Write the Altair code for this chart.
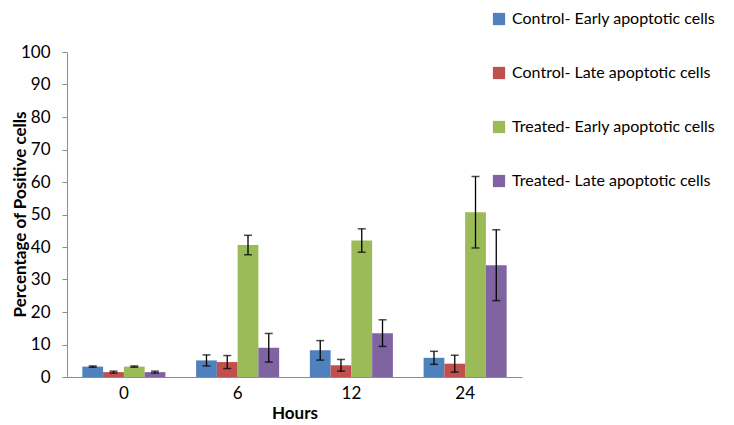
import altair as alt
import pandas as pd

hours = ["0", "6", "12", "24"]
series = [
    "Control- Early apoptotic cells",
    "Control- Late apoptotic cells",
    "Treated- Early apoptotic cells",
    "Treated- Late apoptotic cells",
]
colors = ["#4F81BD", "#C0504D", "#9BBB59", "#8064A2"]

# values per series, in order of hours
ctrl_early = [3.2, 5.1, 8.2, 5.9]
ctrl_late = [1.5, 4.6, 3.6, 4.1]
trt_early = [3.2, 40.6, 42.0, 50.7]
trt_late = [1.5, 9.0, 13.5, 34.4]

ctrl_early_err = [0.2, 1.7, 3.0, 2.0]
ctrl_late_err = [0.3, 2.0, 1.8, 2.6]
trt_early_err = [0.2, 3.0, 3.6, 11.0]
trt_late_err = [0.3, 4.4, 4.1, 10.9]

y_ticks = list(range(0, 101, 10))

vals = [ctrl_early, ctrl_late, trt_early, trt_late]
errs = [ctrl_early_err, ctrl_late_err, trt_early_err, trt_late_err]

rows = []
for s, v, e in zip(series, vals, errs):
    for h, vv, ee in zip(hours, v, e):
        rows.append({"Hours": h, "Series": s, "Value": vv, "Err": ee})
df = pd.DataFrame(rows)

FONT = "Lato"

x = alt.X("Hours:N", sort=hours,
          scale=alt.Scale(paddingInner=0.27, paddingOuter=0.135),
          axis=alt.Axis(title="Hours", labelAngle=0, ticks=False, tickSize=0,
                        labelPadding=8, titlePadding=4, domainColor="#8c8c8c",
                        labelFontSize=17, titleFontSize=17, titleFontWeight="bold",
                        labelColor="#000", titleColor="#000", labelFont=FONT, titleFont=FONT))
xo = alt.XOffset("Series:N", sort=series, scale=alt.Scale(paddingInner=0, paddingOuter=0))

y_axis = alt.Axis(title="Percentage of Positive cells", values=y_ticks,
                  labelOverlap=False, grid=False, tickSize=5, tickColor="#8c8c8c",
                  domainColor="#8c8c8c",
                  labelPadding=12, labelFontSize=17, titleFontSize=17,
                  titleFontWeight="bold", labelColor="#000", titleColor="#000",
                  labelFont=FONT, titleFont=FONT,
                  titleX=-47, titleY=162, titleAlign="center", titleBaseline="middle",
                  titleAngle=270)
y_scale = alt.Scale(domain=[0, 100])

base = alt.Chart(df)

bars = base.mark_bar().encode(
    x=x,
    xOffset=xo,
    y=alt.Y("Value:Q", scale=y_scale, axis=y_axis),
    color=alt.Color("Series:N", sort=series,
                    scale=alt.Scale(domain=series, range=colors),
                    legend=alt.Legend(title=None, orient="none", legendX=424, legendY=-41,
                                      symbolType="square", symbolSize=150, symbolStrokeWidth=0,
                                      labelFontSize=16, labelFont=FONT, labelColor="#000",
                                      labelLimit=0, rowPadding=38, labelOffset=5)),
)

err_rule = base.mark_rule(color="black", strokeWidth=1.3).encode(
    x=alt.X("Hours:N", sort=hours),
    xOffset=alt.XOffset("Series:N", sort=series),
    y=alt.Y("lo:Q", scale=y_scale, axis=y_axis),
    y2="hi:Q",
).transform_calculate(lo="datum.Value - datum.Err", hi="datum.Value + datum.Err")

cap_lo = base.mark_tick(color="black", thickness=1.5, size=8).encode(
    x=alt.X("Hours:N", sort=hours),
    xOffset=alt.XOffset("Series:N", sort=series),
    y=alt.Y("lo:Q", scale=y_scale, axis=y_axis),
).transform_calculate(lo="datum.Value - datum.Err")

cap_hi = base.mark_tick(color="black", thickness=1.5, size=8).encode(
    x=alt.X("Hours:N", sort=hours),
    xOffset=alt.XOffset("Series:N", sort=series),
    y=alt.Y("hi:Q", scale=y_scale, axis=y_axis),
).transform_calculate(hi="datum.Value + datum.Err")

chart = alt.layer(bars, err_rule, cap_lo, cap_hi).properties(
    width=455, height=325,
    autosize=alt.AutoSizeParams(type="none"),
    padding={"left": 59, "top": 44, "right": 204, "bottom": 45},
    background="white",
).configure_view(strokeWidth=0)

chart.save("out.html", embed_options={"renderer": "svg", "actions": False})
